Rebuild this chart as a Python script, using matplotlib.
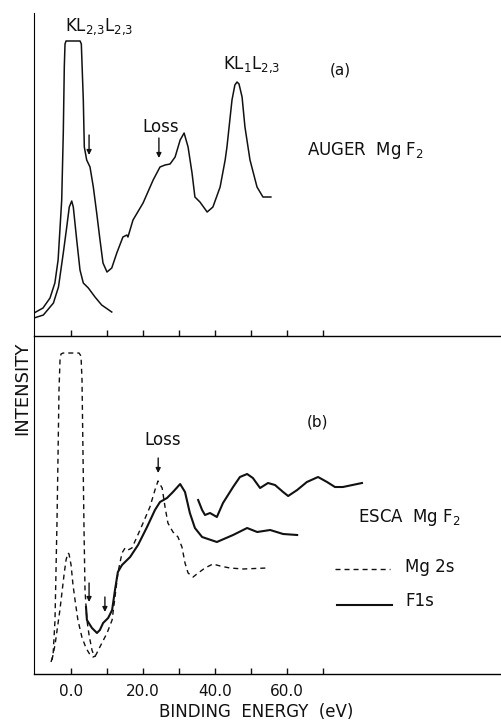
import matplotlib
matplotlib.use("Agg")
import matplotlib.pyplot as plt

# ---------------- data (binding energy in eV, intensity in arbitrary units) -------------
# (a) Auger MgF2, main (scaled-up, clipped) curve
auger_hi_E = [-10.2, -7.7, -5.75, -4.4, -3.5, -2.5, -2.06, -1.78, -1.58, -1.3, 2.6, 2.95,
              3.5, 3.78, 4.44, 5.36, 6.28, 7.22, 8.14, 8.97, 10.08, 11.4, 12.8, 14.5, 15.6,
              15.9, 17.3, 20.1, 22.9, 24.8, 26.2, 27.6, 29.0, 30.4, 31.5, 32.6, 33.7, 34.5,
              35.9, 37.9, 39.5, 41.5, 42.9, 43.4, 44.8, 45.6, 46.2, 46.75, 47.6, 48.4, 49.8,
              51.75, 53.4, 55.6]
auger_hi_I = [23, 28, 38, 53, 76, 136, 203, 269, 292, 295, 295, 292,
              236, 189, 176, 169, 149, 123, 96, 73, 64, 68, 83, 99, 101,
              99, 116, 133, 156, 169, 171, 172, 179, 196, 203, 189, 163, 139,
              134, 124, 129, 149, 176, 189, 236, 251, 254, 252, 239, 209, 176,
              149, 139, 139]
# (a) Auger MgF2, lower curve
auger_lo_E = [-10.2, -7.6, -4.8, -3.4, -2.06, -1.1, -0.4, 0.28, 0.72, 1.67, 2.58, 3.5,
              4.9, 6.75, 8.6, 11.4]
auger_lo_I = [18, 21, 33, 49, 83, 109, 129, 135, 129, 96, 66, 53, 48, 39, 31, 24]

# (b) ESCA MgF2, Mg 2s (scaled-up, clipped) curve
mg_hi_E = [-5.47, -4.9, -4.36, -3.8, -3.5, -3.25, -2.97, -2.7, -2.1, 2.3, 2.86, 3.14, 3.4,
           3.7, 3.97, 4.5, 5.1, 5.9, 6.5, 7.0, 8.1, 10.1, 11.5, 12.3, 13.1, 14.25, 15.1,
           15.9, 17.0, 18.4, 20.1, 22.0, 23.4, 24.25, 25.4, 26.2, 27.0, 28.4, 29.8, 30.9,
           31.75, 32.6, 34.0, 35.4, 37.3, 39.5, 41.5, 44.2, 47.9, 54.5]
mg_hi_I = [12, 19, 54, 154, 224, 284, 314, 320, 321, 321, 318, 294, 224,
           144, 84, 54, 39, 24, 18, 19, 27, 41, 54, 77, 101, 121, 126,
           124, 126, 137, 151, 167, 184, 193, 186, 167, 151, 142, 137, 127,
           111, 101, 97, 101, 106, 110, 108, 106, 105, 106]
# (b) Mg 2s lower curve
mg_lo_E = [-5.2, -4.36, -3.0, -1.86, -1.3, -0.75, -0.47, 0.1, 0.64, 1.2, 2.0, 3.1, 4.25,
           5.4, 6.2, 7.0]
mg_lo_I = [14, 29, 64, 99, 114, 121, 120, 109, 89, 74, 54, 37, 26, 19, 17, 18]

# (b) F 1s curve
f1s_E = [4.25, 4.5, 5.9, 7.3, 8.1, 9.0, 10.4, 11.5, 12.3, 13.1, 14.25, 16.5, 18.7, 21.2,
         23.4, 24.8, 26.75, 28.4, 30.4, 31.75, 33.1, 34.5, 36.5, 40.6, 45.1, 49.0, 51.8,
         55.4, 59.0, 62.9]
f1s_I = [67, 54, 46, 41, 44, 51, 56, 64, 84, 102, 109, 117, 129, 147,
         164, 172, 176, 182, 190, 182, 161, 146, 137, 132, 139, 146, 142,
         144, 140, 139]
# (b) F 1s scaled-up tail
f1s_hi_E = [35.4, 36.5, 37.3, 38.7, 40.6, 42.3, 45.1, 47.0, 49.0, 50.6, 52.6, 54.8, 56.75,
            59.0, 60.4, 62.9, 65.6, 68.7, 71.2, 73.4, 75.6, 80.9]
f1s_hi_I = [174, 164, 159, 161, 157, 171, 187, 197, 200, 196, 186, 191, 189,
            182, 178, 184, 192, 197, 192, 187, 187, 191]

tick_pos = [0, 10, 20, 30, 40, 50, 60, 70]
tick_lab = ["0.0", "", "20.0", "", "40.0", "", "60.0", ""]

# ---------------- figure -------------------------------------------------------------
plt.rcParams['font.family'] = ['DejaVu Sans']
fig = plt.figure(figsize=(5.02, 7.22), dpi=100)
L, R = 0.0677, 1.0
mid, bot, top = 0.5346, 0.0665, 0.982
ax_a = fig.add_axes([L, mid, R - L, top - mid])
ax_b = fig.add_axes([L, bot, R - L, mid - bot], sharex=ax_a)

col = '#111111'
dash = (0, (3.6, 2.9))

ax_a.plot(auger_hi_E, auger_hi_I, color=col, lw=1.1)
ax_a.plot(auger_lo_E, auger_lo_I, color=col, lw=1.1)

ax_b.plot(mg_hi_E, mg_hi_I, color=col, lw=1.0, linestyle=dash)
ax_b.plot(mg_lo_E, mg_lo_I, color=col, lw=1.0, linestyle=dash)
ax_b.plot(f1s_E, f1s_I, color=col, lw=1.5)
ax_b.plot(f1s_hi_E, f1s_hi_I, color=col, lw=1.5)

ax_a.set_xlim(-10.2, 119.8)
ax_a.set_ylim(0, 323)
ax_b.set_ylim(0, 338)

for ax in (ax_a, ax_b):
    ax.spines['top'].set_visible(False)
    ax.spines['right'].set_visible(False)
    ax.spines['left'].set_linewidth(0.8)
    ax.spines['bottom'].set_linewidth(1.0)
    ax.set_yticks([])
    ax.set_xticks(tick_pos)
    ax.tick_params(axis='x', direction='in', length=4, width=1.0, colors=col)
    ax.patch.set_alpha(0)

ax_a.tick_params(axis='x', labelbottom=False, length=4.5)
ax_b.set_xticklabels(tick_lab)
ax_b.tick_params(axis='x', labelsize=11, pad=7)

fs = 12
sub23 = r'$_{2{,}3}$'
# panel (a) annotations
ax_a.text(-1.6, 309, 'KL' + sub23 + 'L' + sub23, fontsize=fs, va='center', ha='left', color=col)
ax_a.text(42.3, 271, r'KL$_1$L' + sub23, fontsize=fs, va='center', ha='left', color=col)
ax_a.text(72, 266, '(a)', fontsize=11, va='center', ha='left', color=col)
ax_a.text(19.8, 209, 'Loss', fontsize=fs, va='center', ha='left', color=col)
ax_a.text(65.7, 186, r'AUGER  Mg F$_2$', fontsize=fs, va='center', ha='left', color=col)
arrow = dict(arrowstyle='-|>', lw=1.0, color=col, mutation_scale=7, shrinkA=0, shrinkB=0)
ax_a.annotate('', xy=(5.1, 181), xytext=(5.1, 201), arrowprops=arrow)
ax_a.annotate('', xy=(24.5, 178), xytext=(24.5, 198), arrowprops=arrow)

# panel (b) annotations
ax_b.text(20.6, 234, 'Loss', fontsize=fs, va='center', ha='left', color=col)
ax_b.text(65.7, 252, '(b)', fontsize=11, va='center', ha='left', color=col)
ax_b.text(79.9, 157, r'ESCA  Mg F$_2$', fontsize=fs, va='center', ha='left', color=col)
ax_b.annotate('', xy=(24.3, 201), xytext=(24.3, 216), arrowprops=arrow)
ax_b.annotate('', xy=(5.1, 72), xytext=(5.1, 91), arrowprops=arrow)
ax_b.annotate('', xy=(9.5, 62), xytext=(9.5, 77), arrowprops=arrow)

# hand-drawn style legend
ax_b.plot([73.4, 88.7], [105, 105], color=col, lw=1.0, linestyle=dash)
ax_b.text(92.9, 107, 'Mg 2s', fontsize=fs, va='center', ha='left', color=col)
ax_b.plot([74, 89.3], [69, 69], color=col, lw=1.5)
ax_b.text(92.9, 73, 'F1s', fontsize=fs, va='center', ha='left', color=col)

fig.text(256 / 502, 1 - 712 / 722, 'BINDING  ENERGY  (eV)', fontsize=12,
         ha='center', va='center', color=col)
fig.text(22 / 502, 1 - 388 / 722, 'INTENSITY', fontsize=13, rotation=90,
         ha='center', va='center', color=col)

fig.savefig('out.png', dpi=100)
